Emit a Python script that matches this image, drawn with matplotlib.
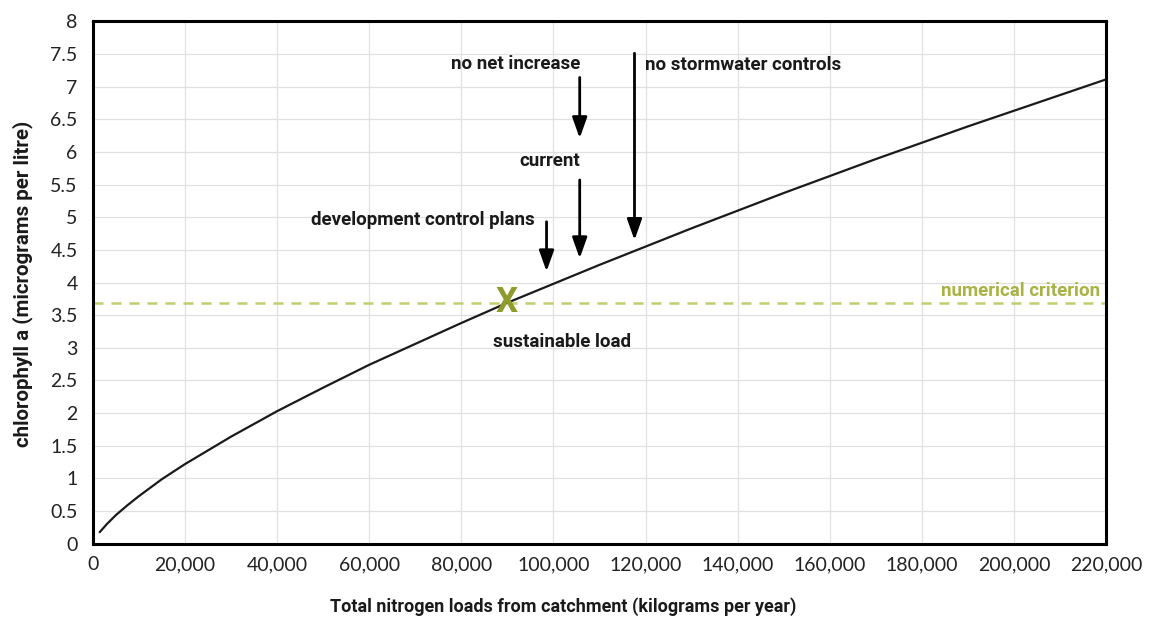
import matplotlib
matplotlib.use("Agg")
import matplotlib.pyplot as plt
from matplotlib.ticker import FuncFormatter

# ---- data ----
load_kg = [1500, 3000, 5000, 7500, 10000, 12500, 15000, 20000, 30000, 40000, 50000, 60000, 70000,
           80000, 90000, 100000, 110000, 120000, 130000, 140000, 150000, 160000,
           170000, 180000, 190000, 200000, 210000, 220000]
chl_a = [0.18, 0.30, 0.44, 0.59, 0.73, 0.86, 0.99, 1.22, 1.64, 2.03, 2.39, 2.74, 3.06,
         3.38, 3.69, 3.98, 4.27, 4.55, 4.83, 5.10, 5.37, 5.63,
         5.89, 6.14, 6.39, 6.63, 6.87, 7.11]

criterion = 3.68
sustainable_load = 89800

scenario_names = ["no net increase", "current", "development control plans", "no stormwater controls"]
scenario_loads = [105700, 105700, 98500, 117600]
arrow_top = [7.14, 5.57, 4.93, 7.51]
arrow_tip = [6.21, 4.37, 4.17, 4.65]

x_ticks = list(range(0, 220001, 20000))
y_ticks = [i * 0.5 for i in range(17)]

FONT = ["Roboto", "DejaVu Sans"]
TICKFONT = ["Lato", "DejaVu Sans"]
plt.rcParams["font.family"] = FONT

fig = plt.figure(figsize=(11.53, 6.2), dpi=100)
ax = fig.add_axes([93 / 1153, 1 - 543.7 / 620, (1106 - 93) / 1153, (543.7 - 21.3) / 620])

ax.set_xlim(0, 220000)
ax.set_ylim(0, 8)
ax.set_xticks(x_ticks)
ax.set_yticks(y_ticks)
ax.xaxis.set_major_formatter(FuncFormatter(lambda v, p: f"{int(v):,}"))
ax.yaxis.set_major_formatter(FuncFormatter(lambda v, p: f"{v:g}"))
ax.tick_params(length=0, labelsize=14)
for lab in ax.get_xticklabels() + ax.get_yticklabels():
    lab.set_family(TICKFONT)
    lab.set_color("#222222")
ax.tick_params(axis="x", pad=9)
ax.tick_params(axis="y", pad=11)

ax.grid(True, color="#e0e0e0", linewidth=0.9)
ax.set_axisbelow(True)
for s in ax.spines.values():
    s.set_linewidth(2.2)
    s.set_color("black")

ANN = dict(fontsize=13.5, fontweight="bold", color="#1a1a1a")

# criterion line
ax.axhline(criterion, color="#c3cc6e", linewidth=1.8, dashes=(4, 3.2), zorder=2)
ax.text(218700, criterion + 0.05, "numerical criterion", ha="right", va="bottom",
        color="#a9b246", fontsize=13.5, fontweight="bold")

# curve
ax.plot(load_kg, chl_a, color="#1a1a1a", linewidth=1.6, zorder=3)

# sustainable load marker
ax.text(sustainable_load, criterion + 0.02, "X", ha="center", va="center",
        color="#8f9b2c", fontsize=25, fontweight="bold", zorder=4)
ax.text(101800, 3.09, "sustainable load", ha="center", va="center", **ANN)

# arrows
for xv, yt, yb in zip(scenario_loads, arrow_top, arrow_tip):
    ax.annotate("", xy=(xv, yb), xytext=(xv, yt),
                arrowprops=dict(arrowstyle="-|>,head_length=0.9,head_width=0.32",
                                color="black", linewidth=2.0, mutation_scale=14,
                                shrinkA=0, shrinkB=0), zorder=5)

ax.text(105800, 7.35, scenario_names[0], ha="right", va="center", **ANN)
ax.text(105700, 5.86, scenario_names[1], ha="right", va="center", **ANN)
ax.text(96000, 4.96, scenario_names[2], ha="right", va="center", **ANN)
ax.text(119900, 7.33, scenario_names[3], ha="left", va="center", **ANN)

fig.text(563 / 1153, 1 - 607 / 620, "Total nitrogen loads from catchment (kilograms per year)",
         ha="center", va="center", fontsize=13, fontweight="bold", color="#1a1a1a")
fig.text(23 / 1153, 1 - 284 / 620, "chlorophyll a (micrograms per litre)",
         ha="center", va="center", rotation=90, fontsize=14.8, fontweight="bold", color="#1a1a1a")

fig.savefig("out.png", dpi=100)
